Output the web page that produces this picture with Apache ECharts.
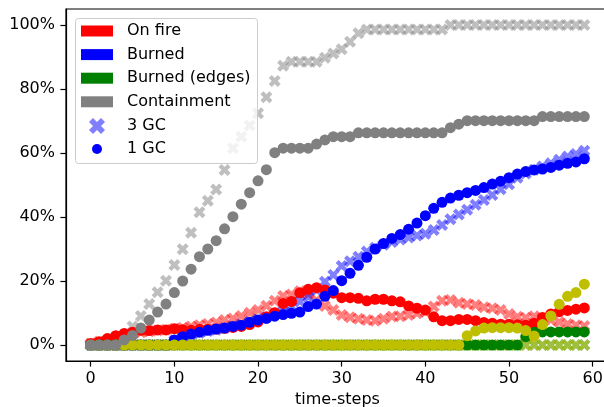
<!DOCTYPE html>
<html>
<head>
<meta charset="utf-8">
<script src="https://cdn.jsdelivr.net/npm/echarts@6.0.0/dist/echarts.min.js"></script>
<style>
  html, body { margin: 0; padding: 0; background: #fff; }
  #chart { width: 604px; height: 407px; }
</style>
</head>
<body>
<div id="chart"></div>
<script>
// time steps on the x axis
const steps = [0, 1, 2, 3, 4, 5, 6, 7, 8, 9, 10, 11, 12, 13, 14, 15, 16, 17, 18, 19,
  20, 21, 22, 23, 24, 25, 26, 27, 28, 29, 30, 31, 32, 33, 34, 35, 36, 37, 38, 39,
  40, 41, 42, 43, 44, 45, 46, 47, 48, 49, 50, 51, 52, 53, 54, 55, 56, 57, 58, 59]

// 1 GC (circles), percent
const fire1 = [0.5, 1.0, 2.0, 2.9, 3.6, 4.0, 4.6, 4.5, 4.7, 4.7, 5.1, 4.8, 4.6, 4.9, 4.9, 5.0, 5.2, 5.5, 5.8, 6.4,
  7.2, 8.8, 10.1, 13.0, 13.6, 16.3, 17.4, 17.9, 17.2, 16.2, 14.8, 14.8, 14.6, 13.8, 14.3, 14.3, 13.8, 13.5, 12.2, 11.5,
  10.9, 8.8, 7.6, 7.6, 8.0, 8.0, 7.6, 7.0, 6.8, 6.5, 6.5, 6.3, 6.2, 6.8, 8.6, 9.7, 10.4, 10.8, 11.2, 11.6]
const burned1 = [0, 0, 0, 0, 0, 0, 0, 0, 0, 0, 1.6, 2.6, 3.4, 4.0, 4.6, 5.0, 5.3, 5.8, 6.2, 7.1,
  7.8, 8.3, 9.0, 9.5, 9.9, 10.3, 12.0, 12.8, 15.2, 17.0, 20.1, 22.4, 24.9, 27.4, 30.0, 31.7, 33.3, 34.5, 36.2, 38.1,
  40.4, 42.7, 44.6, 45.9, 46.8, 47.6, 48.3, 49.2, 50.3, 51.2, 52.3, 53.4, 54.2, 54.7, 55.0, 55.5, 56.2, 56.8, 57.2, 58.2]
const edges1 = [0, 0, 0, 0, 0, 0, 0, 0, 0, 0, 0, 0, 0, 0, 0, 0, 0, 0, 0, 0,
  0, 0, 0, 0, 0, 0, 0, 0, 0, 0, 0, 0, 0, 0, 0, 0, 0, 0, 0, 0,
  0, 0, 0, 0, 0, 0, 0, 0, 0, 0, 0, 0, 2.6, 4.0, 4.1, 4.1, 4.1, 4.1, 4.1, 4.1]
const other1 = [0, 0, 0, 0, 0, 0, 0, 0, 0, 0, 0, 0, 0, 0, 0, 0, 0, 0, 0, 0,
  0, 0, 0, 0, 0, 0, 0, 0, 0, 0, 0, 0, 0, 0, 0, 0, 0, 0, 0, 0,
  0, 0, 0, 0, 0, 2.9, 4.4, 5.3, 5.4, 5.4, 5.4, 5.3, 4.5, 2.8, 6.4, 9.1, 12.7, 15.2, 16.4, 19.0]
const contain1 = [0, 0, 0, 0, 1.6, 3.0, 5.3, 7.8, 10.3, 12.8, 16.4, 20.0, 23.7, 27.6, 30.0, 32.6, 36.3, 40.1, 44.0, 47.6,
  51.3, 54.8, 60.1, 61.5, 61.5, 61.5, 61.5, 62.8, 64.1, 65.1, 65.1, 65.1, 66.3, 66.3, 66.3, 66.3, 66.3, 66.3, 66.3, 66.3,
  66.3, 66.3, 66.3, 67.9, 69.0, 70.1, 70.1, 70.1, 70.1, 70.1, 70.1, 70.1, 70.1, 70.1, 71.4, 71.4, 71.4, 71.4, 71.4, 71.4]

// 3 GC (crosses), percent
const fire3 = [0.5, 1.0, 1.6, 2.4, 3.0, 3.5, 4.0, 4.3, 4.5, 4.8, 5.1, 5.4, 5.8, 6.2, 6.6, 7.0, 7.8, 8.3, 9.1, 10.1,
  10.9, 12.3, 13.8, 15.3, 15.8, 16.8, 16.0, 14.0, 12.2, 10.9, 9.4, 8.7, 8.2, 7.8, 7.6, 8.2, 8.9, 9.0, 9.4, 9.9,
  10.4, 12.0, 13.8, 14.1, 13.2, 12.8, 12.5, 11.8, 11.5, 10.9, 9.7, 8.8, 8.5, 9.0, 8.3, 7.8, 7.2, 6.6, 6.2, 5.9]
const burned3 = [0, 0, 0, 0, 0, 0, 0, 0, 0, 0, 1.4, 2.4, 3.2, 3.8, 4.4, 4.8, 5.3, 5.8, 6.4, 7.2,
  8.0, 8.7, 9.5, 10.6, 12.0, 13.6, 15.0, 17.2, 19.8, 21.9, 24.7, 26.2, 27.6, 29.2, 30.4, 31.3, 32.2, 33.0, 33.6, 34.2,
  34.8, 35.9, 37.5, 39.3, 40.8, 42.3, 43.8, 45.3, 46.9, 48.7, 50.2, 52.3, 53.6, 54.8, 55.8, 56.8, 57.9, 58.9, 59.7, 60.7]
const edges3 = [0, 0, 0, 0, 0, 0, 0, 0, 0, 0, 0, 0, 0, 0, 0, 0, 0, 0, 0, 0,
  0, 0, 0, 0, 0, 0, 0, 0, 0, 0, 0, 0, 0, 0, 0, 0, 0, 0, 0, 0,
  0, 0, 0, 0, 0, 0, 0, 0, 0, 0, 0, 0, 0, 0, 0, 0, 0, 0, 0, 0]
const other3 = [0, 0, 0, 0, 0, 0, 0, 0, 0, 0, 0, 0, 0, 0, 0, 0, 0, 0, 0, 0,
  0, 0, 0, 0, 0, 0, 0, 0, 0, 0, 0, 0, 0, 0, 0, 0, 0, 0, 0, 0,
  0, 0, 0, 0, 0, 0, 0, 0, 0, 0, 0, 0, 0, 0, 0, 0, 0, 0, 0, 0]
const contain3 = [0, 0, 0, 0, 1.5, 5.8, 9.1, 12.8, 16.5, 20.1, 25.0, 29.9, 35.1, 41.5, 45.1, 48.6, 54.7, 61.5, 65.1, 68.6,
  72.4, 77.4, 82.5, 87.3, 88.5, 88.5, 88.5, 88.5, 89.8, 91.1, 92.4, 94.8, 97.4, 98.6, 98.6, 98.6, 98.6, 98.6, 98.6, 98.6,
  98.6, 98.6, 98.6, 100, 100, 100, 100, 100, 100, 100, 100, 100, 100, 100, 100, 100, 100, 100, 100, 100]

const xTicks = [0, 10, 20, 30, 40, 50, 60]
const yTicks = [0, 20, 40, 60, 80, 100]

const font = 'DejaVu Sans'
const xMark = 'path://M0,2.5 L2.5,0 L5,2.5 L7.5,0 L10,2.5 L7.5,5 L10,7.5 L7.5,10 L5,7.5 L2.5,10 L0,7.5 L2.5,5 Z'

const pts = (vals) => steps.map((t, i) => [t, vals[i]])

// all crosses first, then the circles on top
const crossSeries = [
  [fire3, 'rgba(255,0,0,0.5)'],
  [burned3, 'rgba(0,0,255,0.5)'],
  [edges3, 'rgba(0,128,0,0.5)'],
  [other3, 'rgba(191,191,0,0.5)'],
  [contain3, 'rgba(128,128,128,0.5)']
].map(([vals, color], i) => ({
  name: 'x' + i,
  type: 'scatter',
  symbol: xMark,
  symbolSize: 12,
  itemStyle: { color: color, opacity: 1 },
  data: pts(vals)
}))

const dotSeries = [
  [fire1, '#ff0000'],
  [burned1, '#0000ff'],
  [edges1, '#008000'],
  [other1, '#bfbf00'],
  [contain1, '#808080']
].map(([vals, color], i) => ({
  name: 'o' + i,
  type: 'scatter',
  symbol: 'circle',
  symbolSize: 11,
  itemStyle: { color: color, opacity: 1 },
  data: pts(vals)
}))

// empty series, only for the legend
const legendSeries = [
  ['On fire', '#ff0000'],
  ['Burned', '#0000ff'],
  ['Burned (edges)', '#008000'],
  ['Containment', '#808080'],
  ['3 GC', '#8080ff'],
  ['1 GC', '#0000ff']
].map(([name, color]) => ({ name: name, type: 'scatter', data: [], itemStyle: { color: color, opacity: 1 } }))

const legendText = { fontSize: 16, fontFamily: font, color: '#000', lineHeight: 16, padding: [0, 0, 0, 9] }
const legendBase = {
  orient: 'vertical', padding: 0, itemGap: 7.6,
  selectedMode: false, z: 10, textStyle: legendText
}

const chart = echarts.init(document.getElementById('chart'))
chart.setOption({
  animation: false,
  backgroundColor: '#fff',
  grid: {
    left: 66, right: -5, top: 9, bottom: 46,
    show: true, borderColor: '#000', borderWidth: 1.2,
    containLabel: false, outerBoundsMode: 'none'
  },
  xAxis: {
    type: 'value', min: -2.95, max: 61.95,
    axisLine: { show: true, onZero: false, lineStyle: { color: '#000', width: 1.2 } },
    axisTick: { show: true, length: 5.6, customValues: xTicks, lineStyle: { color: '#000', width: 1.2 } },
    axisLabel: { customValues: xTicks, fontSize: 16, fontFamily: font, color: '#000', margin: 10 },
    splitLine: { show: false },
    name: 'time-steps', nameLocation: 'middle', nameGap: 30,
    nameTextStyle: { fontSize: 16, fontFamily: font, color: '#000' }
  },
  yAxis: {
    type: 'value', min: -5, max: 105,
    axisLine: { show: true, onZero: false, lineStyle: { color: '#000', width: 1.2 } },
    axisTick: { show: true, length: 5.6, customValues: yTicks, lineStyle: { color: '#000', width: 1.2 } },
    axisLabel: {
      customValues: yTicks, fontSize: 16, fontFamily: font, color: '#000', margin: 11,
      formatter: (v) => v + '%'
    },
    splitLine: { show: false }
  },
  graphic: {
    elements: [{
      type: 'rect', z: 5,
      shape: { x: 75.5, y: 18.5, width: 182, height: 145, r: 3 },
      style: { fill: 'rgba(255,255,255,0.8)', stroke: '#cccccc', lineWidth: 1 }
    }]
  },
  legend: [
    Object.assign({}, legendBase, {
      left: 81, top: 23, itemWidth: 32, itemHeight: 11,
      data: ['On fire', 'Burned', 'Burned (edges)', 'Containment'].map((n) => ({ name: n, icon: 'rect' }))
    }),
    Object.assign({}, legendBase, {
      left: 89, top: 118, itemWidth: 32, itemHeight: 16,
      data: [{ name: '3 GC', icon: xMark }]
    }),
    Object.assign({}, legendBase, {
      left: 92, top: 141, itemWidth: 32, itemHeight: 10,
      data: [{ name: '1 GC', icon: 'circle' }]
    })
  ],
  series: crossSeries.concat(dotSeries, legendSeries)
})
</script>
</body>
</html>
